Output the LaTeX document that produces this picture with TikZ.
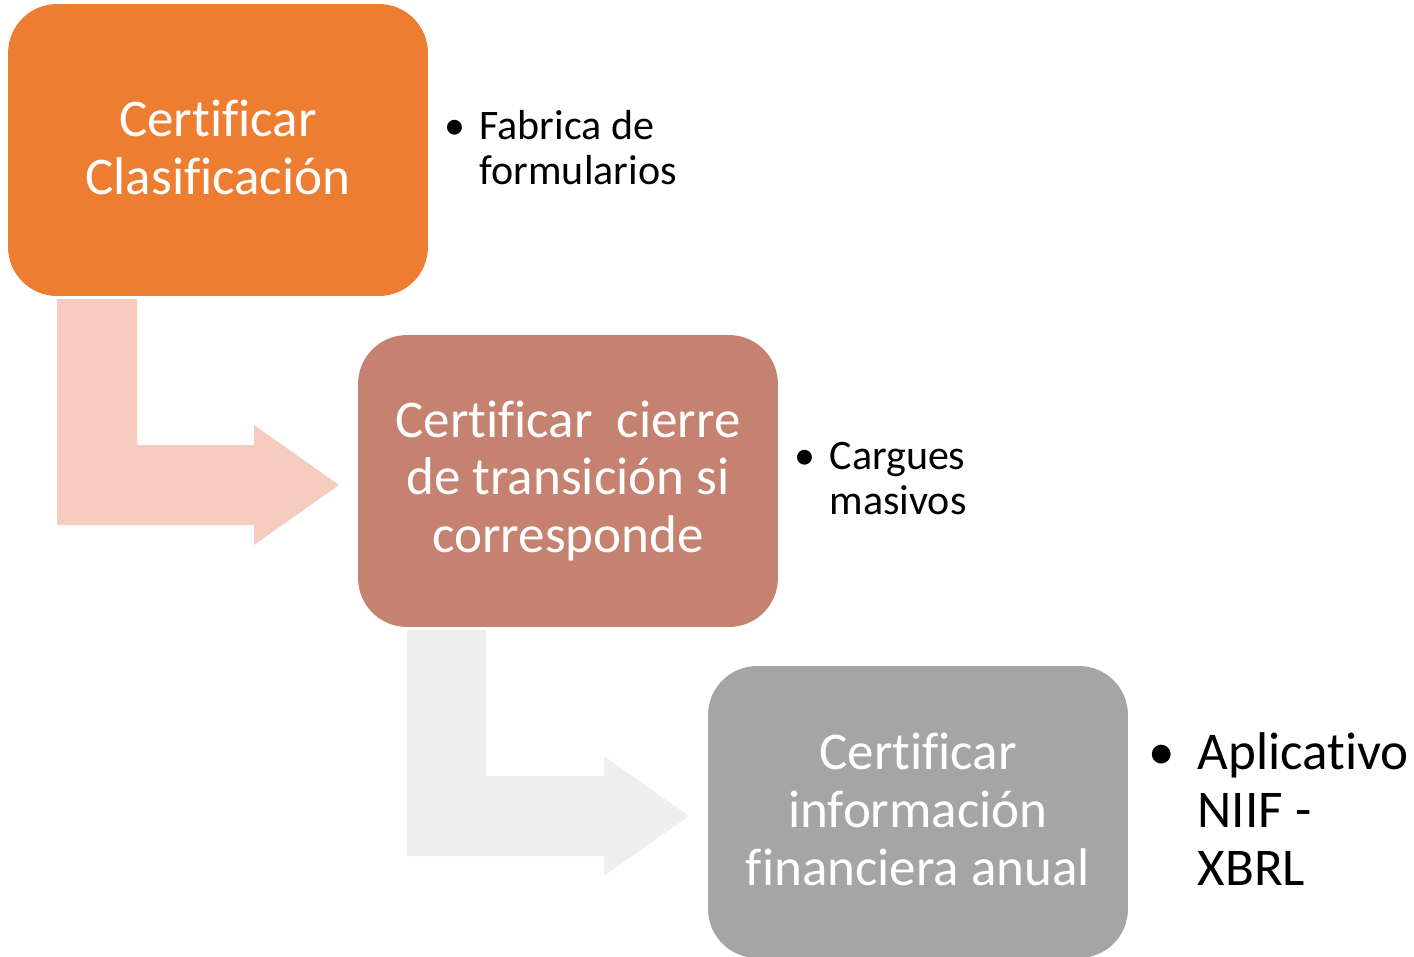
\documentclass[tikz,border=0pt]{standalone}
\usepackage{fontspec}
\setmainfont{Carlito}[Ligatures=CommonOff]
\usetikzlibrary{positioning}
\definecolor{stepone}{HTML}{ED7D31}
\definecolor{steptwo}{HTML}{C58270}
\definecolor{stepthree}{HTML}{A5A5A5}
\definecolor{flowone}{HTML}{F5CCBF}
\definecolor{flowtwo}{HTML}{EFEFEF}

\begin{document}
\begin{tikzpicture}[x=0.02cm,y=0.02cm,
	phase/.style={rounded corners=0.98cm, minimum width=8.4cm, minimum height=5.84cm, inner sep=0pt, align=center, text=white, font=\fontsize{30.2}{33}\selectfont, execute at end node={\rule[-0.12cm]{0pt}{0pt}}},
	note/.style={anchor=west, align=left, inner sep=0pt, yshift=0.05cm, font=\fontsize{23.9}{25.6}\selectfont},
	bignote/.style={note, font=\fontsize{30.2}{33}\selectfont}]
				\useasboundingbox (0,0) rectangle (1414,-957);
				\fill [flowone] (57,-299) -- (137,-299) -- (137,-445) -- (254,-445) -- (254,-425) -- (339,-485) -- (254,-545) -- (254,-525) -- (57,-525) -- cycle;
				\fill [flowtwo] (407,-630) -- (486,-630) -- (486,-776) -- (604,-776) -- (604,-756) -- (689,-816) -- (604,-876) -- (604,-856) -- (407,-856) -- cycle;
				\node [phase, fill=stepone] (certclas) at (218,-150) {Certificar\\Clasificación};
				\node [phase, fill=steptwo] (certcierre) at (568,-481) {Certificar\ \ cierre\\de transición si\\corresponde};
				\node [phase, fill=stepthree] (certinfo) at (918,-812) {Certificar\\información\\financiera anual};
				\node [note, right=0.32cm of certclas] (fabrica) {\makebox[0.7cm][l]{\textbullet}Fabrica de\\\hspace*{0.7cm}formularios};
				\node [note, right=0.32cm of certcierre] (cargues) {\makebox[0.7cm][l]{\textbullet}Cargues\\\hspace*{0.7cm}masivos};
				\node [bignote, right=0.4cm of certinfo] (aplicativo) {\makebox[0.98cm][l]{\textbullet}Aplicativo\\\hspace*{0.98cm}NIIF -\\\hspace*{0.98cm}XBRL};
\end{tikzpicture}
\end{document}
